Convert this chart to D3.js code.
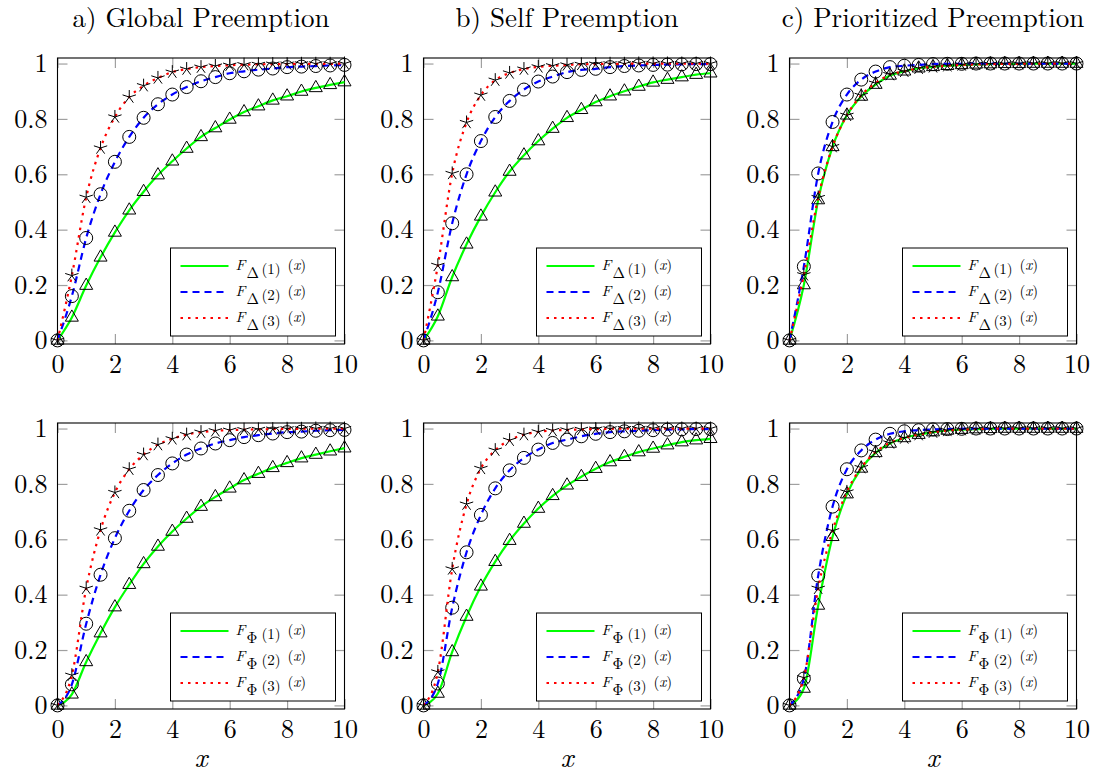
<!DOCTYPE html>
<html>
<head>
<meta charset="utf-8">
<script src="https://cdn.jsdelivr.net/npm/d3@7"></script>
<style>
  body { margin: 0; background: #fff; }
  svg { display: block; }
  .tick line { stroke: #a0a0a0; stroke-width: 1.2; }
  .domain { display: none; }
</style>
</head>
<body>
<svg id="chart" width="1099" height="779"></svg>
<script>
// sample points shared by all curves
const xValues = [0, 0.5, 1, 1.5, 2, 2.5, 3, 3.5, 4, 4.5, 5, 5.5, 6, 6.5, 7, 7.5, 8, 8.5, 9, 9.5, 10];
const xTicks = [0, 2, 4, 6, 8, 10];
const yTicks = [0, 0.2, 0.4, 0.6, 0.8, 1];
const yTickLabels = ['0', '0.2', '0.4', '0.6', '0.8', '1'];
const titles = ['a) Global Preemption', 'b) Self Preemption', 'c) Prioritized Preemption'];
const rowSymbols = ['Δ', 'Φ'];
const orderLabels = ['(1)', '(2)', '(3)'];

// top row: F_Δ
const globalDelta1 = [0, 0.083, 0.198, 0.300, 0.390, 0.470, 0.537, 0.597, 0.647, 0.693, 0.735, 0.767, 0.798, 0.825, 0.846, 0.867, 0.882, 0.899, 0.912, 0.923, 0.933];
const globalDelta2 = [0, 0.160, 0.370, 0.528, 0.645, 0.735, 0.804, 0.853, 0.888, 0.915, 0.936, 0.951, 0.965, 0.972, 0.978, 0.982, 0.987, 0.989, 0.991, 0.993, 0.995];
const globalDelta3 = [0, 0.234, 0.517, 0.695, 0.807, 0.879, 0.920, 0.948, 0.969, 0.980, 0.987, 0.991, 0.994, 0.996, 0.997, 0.998, 0.998, 0.999, 0.999, 0.999, 1.000];

const selfDelta1 = [0, 0.087, 0.229, 0.347, 0.448, 0.535, 0.610, 0.669, 0.720, 0.765, 0.804, 0.833, 0.861, 0.882, 0.900, 0.917, 0.932, 0.942, 0.951, 0.960, 0.965];
const selfDelta2 = [0, 0.174, 0.423, 0.600, 0.720, 0.807, 0.865, 0.906, 0.935, 0.953, 0.969, 0.977, 0.981, 0.987, 0.991, 0.993, 0.995, 0.996, 0.997, 0.998, 0.998];
const selfDelta3 = [0, 0.271, 0.603, 0.787, 0.886, 0.940, 0.966, 0.980, 0.988, 0.992, 0.995, 0.997, 0.998, 0.999, 0.999, 1, 1, 1, 1, 1, 1];

const prioDelta1 = [0, 0.200, 0.507, 0.699, 0.813, 0.881, 0.924, 0.957, 0.972, 0.983, 0.988, 0.992, 0.995, 0.997, 0.998, 0.999, 0.999, 1, 1, 1, 1];
const prioDelta2 = [0, 0.267, 0.603, 0.789, 0.888, 0.942, 0.971, 0.987, 0.992, 0.995, 0.998, 0.999, 0.999, 1, 1, 1, 1, 1, 1, 1, 1];
const prioDelta3 = [0, 0.237, 0.516, 0.700, 0.813, 0.885, 0.929, 0.960, 0.972, 0.983, 0.988, 0.992, 0.995, 0.997, 0.998, 0.999, 0.999, 1, 1, 1, 1];

// bottom row: F_Φ
const globalPhi1 = [0, 0.040, 0.157, 0.261, 0.355, 0.436, 0.511, 0.574, 0.628, 0.675, 0.718, 0.753, 0.784, 0.814, 0.837, 0.858, 0.876, 0.893, 0.906, 0.918, 0.929];
const globalPhi2 = [0, 0.076, 0.295, 0.472, 0.604, 0.703, 0.778, 0.832, 0.874, 0.906, 0.928, 0.946, 0.958, 0.969, 0.976, 0.982, 0.987, 0.989, 0.992, 0.994, 0.995];
const globalPhi3 = [0, 0.109, 0.423, 0.634, 0.769, 0.853, 0.906, 0.942, 0.963, 0.978, 0.987, 0.992, 0.994, 0.996, 0.997, 0.998, 0.999, 0.999, 1, 1, 1];

const selfPhi1 = [0, 0.043, 0.193, 0.321, 0.430, 0.519, 0.595, 0.657, 0.711, 0.757, 0.795, 0.826, 0.855, 0.879, 0.898, 0.915, 0.928, 0.940, 0.951, 0.958, 0.963];
const selfPhi2 = [0, 0.079, 0.353, 0.553, 0.688, 0.784, 0.849, 0.894, 0.924, 0.948, 0.960, 0.972, 0.981, 0.987, 0.990, 0.992, 0.994, 0.996, 0.997, 0.998, 0.998];
const selfPhi3 = [0, 0.121, 0.493, 0.727, 0.856, 0.922, 0.958, 0.978, 0.988, 0.993, 0.995, 0.997, 0.998, 0.999, 1, 1, 1, 1, 1, 1, 1];

const prioPhi1 = [0, 0.061, 0.361, 0.609, 0.763, 0.856, 0.912, 0.946, 0.966, 0.978, 0.987, 0.993, 0.996, 0.998, 0.999, 1, 1, 1, 1, 1, 1];
const prioPhi2 = [0, 0.097, 0.469, 0.718, 0.853, 0.921, 0.960, 0.981, 0.990, 0.994, 0.997, 0.998, 0.999, 1, 1, 1, 1, 1, 1, 1, 1];
const prioPhi3 = [0, 0.100, 0.423, 0.631, 0.771, 0.859, 0.915, 0.948, 0.966, 0.978, 0.987, 0.993, 0.996, 0.998, 0.999, 1, 1, 1, 1, 1, 1];

const panelSeries = [
  [[globalDelta1, globalDelta2, globalDelta3], [selfDelta1, selfDelta2, selfDelta3], [prioDelta1, prioDelta2, prioDelta3]],
  [[globalPhi1, globalPhi2, globalPhi3], [selfPhi1, selfPhi2, selfPhi3], [prioPhi1, prioPhi2, prioPhi3]]
];

const styles = [
  { color: '#00ff00', dash: null, mark: 'triangle' },
  { color: '#0000ff', dash: '7,5', mark: 'circle' },
  { color: '#ff0000', dash: '2.5,5', mark: 'star' }
];

const FONT = '"Latin Modern Roman", "Liberation Serif", serif';
const colLeft = [57.5, 423.5, 789.5];
const rowTop = [58, 423];
const plotW = 287, plotH = 286;
const tickLen = 10;

const svg = d3.select('#chart');

function markPath(type) {
  if (type === 'triangle') return 'M0,-7.5L6.5,3.75L-6.5,3.75Z';
  if (type === 'circle') return d3.symbol(d3.symbolCircle, Math.PI * 6.5 * 6.5)();
  // five-spoke star
  let p = '';
  for (let k = 0; k < 5; k++) {
    const a = (-90 + 72 * k) * Math.PI / 180;
    p += `M0,0L${(7 * Math.cos(a)).toFixed(2)},${(7 * Math.sin(a)).toFixed(2)}`;
  }
  return p;
}

function styleAxis(sel) {
  sel.attr('font-family', FONT).attr('font-size', 26);
  sel.selectAll('text').attr('fill', '#000');
}

rowTop.forEach((top, r) => {
  colLeft.forEach((left, c) => {
    const g = svg.append('g').attr('transform', `translate(${left},${top})`);
    const x = d3.scaleLinear().domain([0, 10]).range([0, plotW]);
    const y = d3.scaleLinear().domain([-0.013, 1.02]).range([plotH, 0]);

    g.append('g')
      .attr('transform', `translate(0,${plotH})`)
      .call(d3.axisBottom(x).tickValues(xTicks).tickSize(-tickLen).tickPadding(11).tickFormat(d3.format('d')))
      .call(styleAxis);
    g.append('g')
      .call(d3.axisTop(x).tickValues(xTicks).tickSize(-tickLen).tickFormat(''));
    g.append('g')
      .call(d3.axisLeft(y).tickValues(yTicks).tickSize(-tickLen).tickPadding(10).tickFormat((d, i) => yTickLabels[i]))
      .call(styleAxis);
    g.append('g')
      .attr('transform', `translate(${plotW},0)`)
      .call(d3.axisRight(y).tickValues(yTicks).tickSize(-tickLen).tickFormat(''));

    g.append('rect')
      .attr('width', plotW).attr('height', plotH)
      .attr('fill', 'none').attr('stroke', '#000').attr('stroke-width', 1.1);

    const line = d3.line()
      .x((d, i) => x(xValues[i]))
      .y(d => y(d))
      .curve(d3.curveMonotoneX);

    panelSeries[r][c].forEach((vals, s) => {
      const st = styles[s];
      g.append('path')
        .datum(vals)
        .attr('d', line)
        .attr('fill', 'none')
        .attr('stroke', st.color)
        .attr('stroke-width', 2.2)
        .attr('stroke-dasharray', st.dash);
      g.append('g').selectAll('path')
        .data(vals)
        .join('path')
        .attr('transform', (d, i) => `translate(${x(xValues[i])},${y(d)})`)
        .attr('d', markPath(st.mark))
        .attr('fill', 'none')
        .attr('stroke', '#000')
        .attr('stroke-width', 1);
    });

    // legend
    const lw = 165, lh = 88;
    const lg = g.append('g')
      .attr('transform', `translate(${plotW - 9 - lw},${plotH - 8 - lh})`)
      .attr('font-family', FONT);
    lg.append('rect').attr('width', lw).attr('height', lh)
      .attr('fill', '#fff').attr('stroke', '#000').attr('stroke-width', 1);
    styles.forEach((st, s) => {
      const ly = 18 + 26 * s;
      lg.append('line')
        .attr('x1', 10).attr('x2', 58).attr('y1', ly).attr('y2', ly)
        .attr('stroke', st.color).attr('stroke-width', 2.2)
        .attr('stroke-dasharray', st.dash);
      const base = ly + 4;
      lg.append('text').attr('x', 65).attr('y', base)
        .attr('font-size', 15).attr('font-style', 'italic').text('F');
      lg.append('text').attr('x', 76).attr('y', base + 8)
        .attr('font-size', 15).text(rowSymbols[r]);
      lg.append('text').attr('x', 91).attr('y', base + 4)
        .attr('font-size', 15).text(orderLabels[s]);
      const t = lg.append('text').attr('x', 117).attr('y', base)
        .attr('font-size', 15);
      t.append('tspan').text('(');
      t.append('tspan').attr('font-style', 'italic').text('x');
      t.append('tspan').text(')');
    });

    if (r === 0) {
      svg.append('text')
        .attr('x', left + plotW / 2).attr('y', 27)
        .attr('text-anchor', 'middle')
        .attr('font-family', FONT).attr('font-size', 27)
        .text(titles[c]);
    } else {
      svg.append('text')
        .attr('x', left + plotW / 2).attr('y', 767)
        .attr('text-anchor', 'middle')
        .attr('font-family', FONT)
        .attr('font-style', 'italic').attr('font-size', 28)
        .text('x');
    }
  });
});
</script>
</body>
</html>
